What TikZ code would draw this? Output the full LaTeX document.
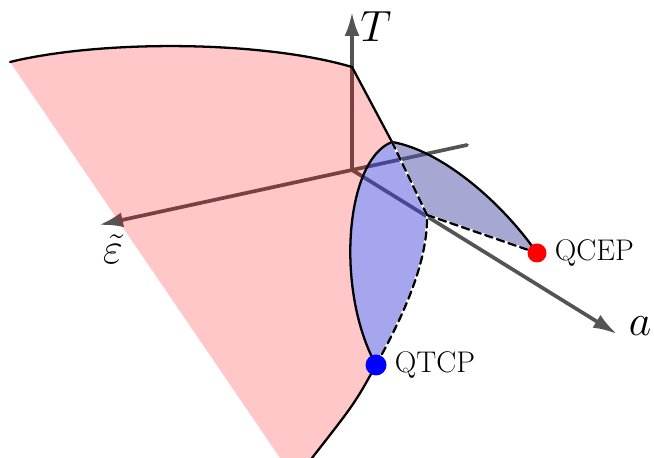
\documentclass[tikz,border=0pt]{standalone}
\usepackage{amsmath}
\usepackage{amssymb}
\usetikzlibrary{
  arrows.meta,  % Latex 箭头
  calc,         % 坐标计算
  positioning   % 节点相对定位
}

\begin{document}
\begin{tikzpicture}[>={Latex[length=4.8mm, width=3.0mm]}, line join=round, line cap=round]
  % 统一设置：坐标轴、边界线、虚线、相区填充
  \tikzset{
    axis line/.style={->, draw=black!67, line width=2.1pt},
    phase edge/.style={draw=black, line width=1.3pt},
    white under/.style={draw=white, line width=1.3pt},
    dash edge/.style={draw=black, line width=1.3pt, dash pattern=on 4.4pt off 2.6pt},
    pink phase/.style={fill=red, fill opacity=0.22},
    lobe phase/.style={fill={rgb,255:red,60;green,60;blue,220}, fill opacity=0.46},
    wing phase/.style={fill={rgb,255:red,80;green,80;blue,170}, fill opacity=0.5},
    crit dot/.style={circle, inner sep=0pt, minimum size=#1},
    crit label/.style={font=\fontsize{17}{19}\selectfont, inner sep=1pt},
    axis label/.style={font=\fontsize{24}{26}\selectfont, inner sep=0pt}
  }
  \useasboundingbox (0,0) rectangle (13.08,9.16);

  % =======================
  % 坐标轴
  % =======================
  \coordinate (O) at (7.04, 5.76);      % 原点
  \coordinate (Ttip) at (7.04, 8.92);   % T 轴顶端
  \coordinate (atip) at (12.34, 2.48);  % a 轴顶端
  \coordinate (Eback) at (9.34, 6.26);  % epsilon 轴后端
  \coordinate (Etip) at (1.98, 4.66);   % epsilon 轴顶端

  \draw[axis line] (O) -- (Ttip);
  \draw[axis line] (O) -- (atip);
  \draw[axis line] (Eback) -- (Etip);

  \node[axis label] (Tlab) at (7.52, 8.62) {$T$};
  \node[axis label] (alab) at (12.80, 2.64) {$a$};
  \node[axis label] (Elab) at (2.26, 4.18) {$\tilde{\varepsilon}$};

  % =======================
  % 相区的顶点
  % =======================
  \coordinate (P1) at (0.20, 7.92);   % 左上
  \coordinate (P2) at (7.04, 7.82);   % 右上 (T 轴上)
  \coordinate (C) at (7.84, 6.32);    % 尖点
  \coordinate (Q1) at (7.52, 1.86);   % QTCP
  \coordinate (Q2) at (10.74, 4.10);  % QCEP
  \coordinate (M) at (8.54, 4.86);    % 内部交点
  \coordinate (B1) at (6.24, 0);      % 底部右
  \coordinate (B2) at (5.60, 0);      % 底部左

  % 粉色相区
  \fill[pink phase] (P1) .. controls (2.00, 8.36) and (5.20, 8.36) .. (P2)
    -- (C) .. controls (6.90, 5.96) and (6.70, 3.36) .. (Q1)
    .. controls (7.10, 1.10) .. (B1) -- (B2) -- cycle;

  % 蓝色相区：左瓣与右翼
  \fill[lobe phase] (C) .. controls (6.90, 5.96) and (6.70, 3.36) .. (Q1)
    .. controls (8.10, 2.90) and (8.56, 3.96) .. (M) -- cycle;
  \fill[wing phase] (C) .. controls (8.80, 6.16) and (10.00, 5.16) .. (Q2)
    -- (M) -- cycle;

  % 实线边界
  \draw[phase edge] (P1) .. controls (2.00, 8.36) and (5.20, 8.36) .. (P2) -- (C);
  \draw[phase edge] (C) .. controls (6.90, 5.96) and (6.70, 3.36) .. (Q1)
    .. controls (7.10, 1.10) .. (B1);
  \draw[phase edge] (C) .. controls (8.80, 6.16) and (10.00, 5.16) .. (Q2);

  % 虚线边界（白底黑虚线）
  \draw[white under] (Q1) .. controls (8.10, 2.90) and (8.56, 3.96) .. (M) -- (C);
  \draw[white under] (M) -- (Q2);
  \draw[dash edge] (Q1) .. controls (8.10, 2.90) and (8.56, 3.96) .. (M) -- (C);
  \draw[dash edge] (M) -- (Q2);

  % =======================
  % 临界点
  % =======================
  \node[crit dot=0.38cm, fill=red] (qcep) at (Q2) {};
  \node[crit dot=0.42cm, fill=blue] (qtcp) at (Q1) {};
  \node[crit label, right=0.12cm of qcep] (qceplab) {QCEP};
  \node[crit label, right=0.12cm of qtcp] (qtcplab) {QTCP};

\end{tikzpicture}
\end{document}
